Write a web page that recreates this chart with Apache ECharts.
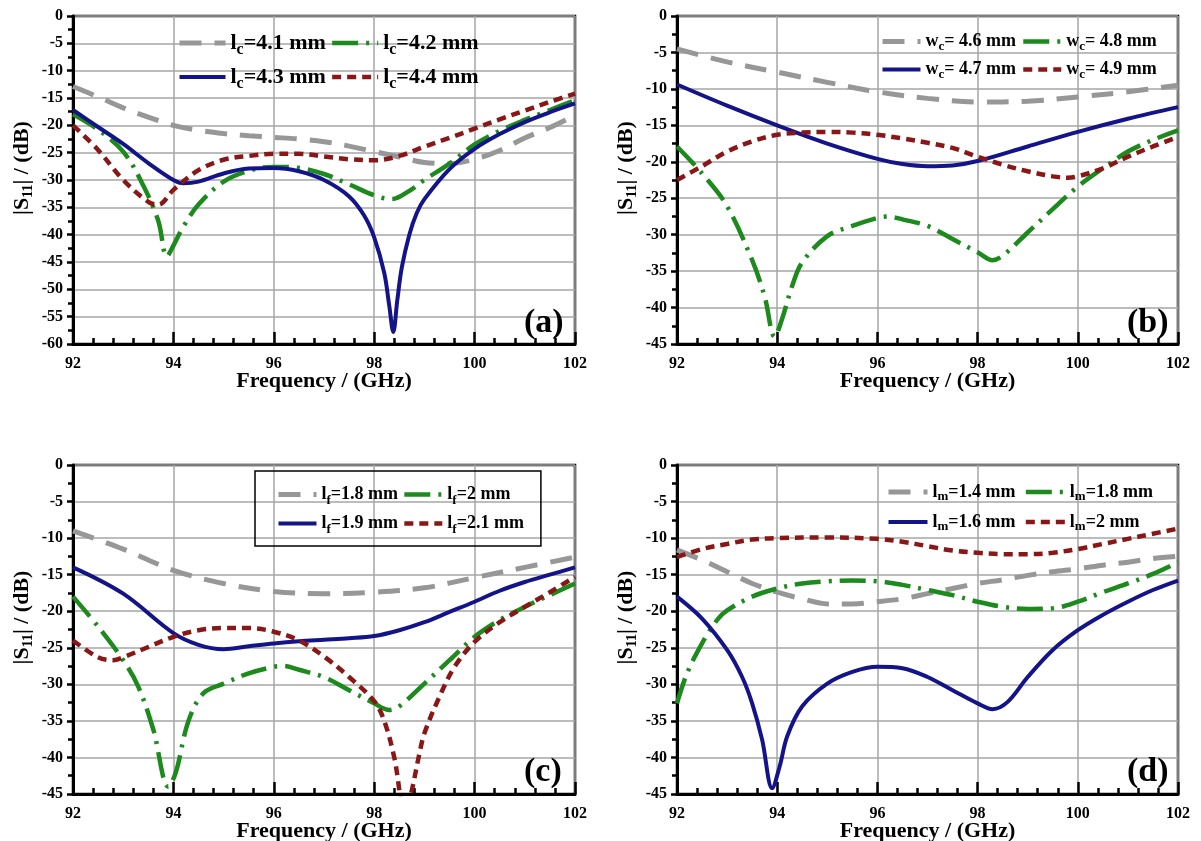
<!DOCTYPE html>
<html><head><meta charset="utf-8">
<script src="https://cdn.jsdelivr.net/npm/echarts@6/dist/echarts.min.js"></script>
<style>html,body{margin:0;padding:0;background:#fff}#c{width:1201px;height:841px}</style>
</head><body><div id="c"></div>
<script>
// ---------- DATA ----------
// Panel (a): l_c sweep
const a_lc41_f = [92, 92.5, 93, 93.5, 94, 94.5, 95, 95.5, 96, 96.5, 97, 97.5, 98, 98.5, 99, 99.5, 100, 100.5, 101, 101.5, 102];
const a_lc41_s = [-12.9, -14.8, -16.8, -18.5, -20, -20.9, -21.5, -21.9, -22.2, -22.5, -23, -23.8, -24.8, -25.8, -26.8, -27, -26.2, -24.6, -22.3, -20.4, -18.2];
const a_lc42_f = [92, 92.5, 93, 93.4, 93.7, 93.87, 94, 94.2, 94.5, 95, 95.5, 96, 96.5, 97, 97.5, 98, 98.35, 98.7, 99, 99.5, 100, 100.5, 101, 101.5, 102];
const a_lc42_s = [-18, -20.8, -24.8, -31, -37.5, -44, -42, -38.5, -34.5, -30.3, -28.3, -27.6, -27.8, -28.9, -30.8, -32.8, -33.5, -32, -30, -27, -23.5, -21, -19, -17.2, -15.4];
const a_lc43_f = [92, 92.5, 93, 93.5, 94, 94.2, 94.5, 95, 95.5, 96, 96.5, 97, 97.5, 97.8, 98, 98.2, 98.3, 98.38, 98.46, 98.55, 98.7, 98.85, 99, 99.5, 100, 100.5, 101, 101.5, 102];
const a_lc43_s = [-17.2, -20.3, -23.4, -26.9, -30, -30.6, -30.3, -28.8, -27.9, -27.8, -28.4, -30, -33, -36.5, -40.5, -47, -53, -57.8, -52, -46, -40, -36, -33.5, -28, -24.3, -21.6, -19.4, -17.6, -16];
const a_lc44_f = [92, 92.5, 93, 93.5, 93.7, 94, 94.5, 95, 95.5, 96, 96.5, 97, 97.5, 98, 98.5, 99, 99.5, 100, 100.5, 101, 101.5, 102];
const a_lc44_s = [-20, -24.5, -30, -34, -34.5, -31.8, -28.2, -26.3, -25.6, -25.2, -25.2, -25.7, -26.2, -26.4, -25.6, -23.9, -22.3, -20.6, -18.9, -17.3, -15.7, -14.2];

// Panel (b): w_c sweep
const b_wc46_f = [92, 93, 94, 95, 96, 97, 98, 99, 100, 101, 102];
const b_wc46_s = [-4.5, -6.3, -7.7, -9.1, -10.4, -11.3, -11.8, -11.7, -11.1, -10.4, -9.5];
const b_wc47_f = [92, 93, 94, 95, 96, 96.5, 97, 97.5, 98, 99, 100, 101, 102];
const b_wc47_s = [-9.4, -12.3, -15, -17.5, -19.6, -20.3, -20.6, -20.5, -19.9, -17.9, -15.9, -14.1, -12.5];
const b_wc48_f = [92, 92.5, 93, 93.5, 93.75, 93.95, 94.1, 94.3, 94.5, 95, 95.5, 96, 96.2, 96.5, 97, 97.5, 98, 98.3, 98.5, 99, 99.5, 100, 100.5, 101, 101.5, 102];
const b_wc48_s = [-17.9, -21.6, -26.1, -33.5, -38.5, -44, -41.5, -37, -33.8, -30.2, -28.8, -27.7, -27.5, -27.9, -28.8, -30.6, -32.4, -33.5, -32.9, -29.7, -26.5, -23.4, -20.9, -18.6, -17, -15.7];
const b_wc49_f = [92, 92.5, 93, 93.5, 94, 94.5, 95, 95.5, 96, 96.5, 97, 97.5, 98, 98.5, 99, 99.5, 99.8, 100, 100.5, 101, 101.5, 102];
const b_wc49_s = [-22.5, -20.6, -18.6, -17.2, -16.3, -16, -15.9, -16, -16.3, -16.8, -17.4, -18.1, -19.3, -20.4, -21.3, -22, -22.2, -22, -20.9, -19.3, -17.9, -16.6];

// Panel (c): l_f sweep
const c_lf18_f = [92, 93, 94, 95, 96, 97, 98, 99, 100, 101, 102];
const c_lf18_s = [-9, -11.5, -14.4, -16.2, -17.3, -17.6, -17.4, -16.8, -15.4, -14, -12.6];
const c_lf19_f = [92, 93, 94, 94.5, 95, 95.5, 96, 96.5, 97, 97.5, 98, 98.5, 99, 99.5, 100, 100.5, 101, 101.5, 102];
const c_lf19_s = [-14, -17.6, -23, -24.6, -25.2, -24.8, -24.4, -24.1, -23.9, -23.7, -23.4, -22.6, -21.5, -20.1, -18.7, -17.2, -16, -15, -14];
const c_lf20_f = [92, 92.5, 93, 93.3, 93.6, 93.9, 94.05, 94.3, 94.6, 95, 95.5, 96, 96.2, 96.5, 97, 97.5, 98, 98.3, 98.5, 99, 99.5, 100, 100.5, 101, 101.5, 102];
const c_lf20_s = [-18, -22.1, -26.7, -30.3, -36.2, -44, -42, -35, -31.2, -29.9, -28.5, -27.6, -27.5, -28, -29, -30.8, -32.6, -33.5, -33, -29.9, -26.7, -23.5, -21.2, -19.4, -17.8, -16.2];
const c_lf21_f = [92, 92.5, 92.8, 93, 93.5, 94, 94.5, 95, 95.5, 96, 96.5, 97, 97.5, 98, 98.2, 98.4, 98.62, 98.75, 98.9, 99, 99.3, 99.6, 100, 100.5, 101, 101.5, 102];
const c_lf21_s = [-24, -26.3, -26.7, -26.3, -24.9, -23.5, -22.6, -22.3, -22.3, -22.8, -24, -26.2, -29, -32.3, -35, -40, -48, -44.5, -39.5, -36.7, -31.7, -27.6, -24.2, -21.5, -19.4, -17.4, -15.3];

// Panel (d): l_m sweep
const d_lm14_f = [92, 92.5, 93, 93.5, 94, 94.5, 95, 95.5, 96, 96.5, 97, 97.5, 98, 98.5, 99, 99.5, 100, 100.5, 101, 101.5, 102];
const d_lm14_s = [-11.6, -13, -14.6, -16.2, -17.4, -18.3, -19, -19, -18.7, -18.3, -17.6, -16.9, -16.2, -15.7, -15.1, -14.6, -14.2, -13.7, -13.3, -12.8, -12.5];
const d_lm16_f = [92, 92.5, 93, 93.3, 93.5, 93.7, 93.9, 94.05, 94.2, 94.5, 95, 95.5, 96, 96.5, 97, 97.5, 98, 98.3, 98.6, 99, 99.5, 100, 100.5, 101, 101.5, 102];
const d_lm16_s = [-18, -21, -25.3, -29, -32.6, -37.6, -44.2, -41.2, -37.1, -33, -29.9, -28.3, -27.6, -27.8, -29, -30.8, -32.6, -33.4, -32.4, -29, -25.3, -22.6, -20.5, -18.7, -17.1, -15.8];
const d_lm18_f = [92, 92.2, 92.5, 92.8, 93, 93.5, 94, 94.5, 95, 95.5, 96, 96.5, 97, 97.5, 98, 98.5, 99, 99.5, 100, 100.5, 101, 101.5, 102];
const d_lm18_s = [-32.6, -28.5, -24.4, -21.2, -19.9, -18, -16.9, -16.2, -15.9, -15.8, -15.9, -16.4, -17.1, -17.8, -18.7, -19.4, -19.7, -19.6, -18.7, -17.4, -16.2, -14.9, -13.3];
const d_lm20_f = [92, 92.5, 93, 93.5, 94, 95, 96, 96.5, 97, 97.5, 98, 98.5, 99, 99.5, 100, 100.5, 101, 101.5, 102];
const d_lm20_s = [-12.6, -11.5, -10.8, -10.2, -10, -9.9, -10.1, -10.5, -11.1, -11.7, -12, -12.2, -12.2, -12, -11.5, -10.8, -10.1, -9.4, -8.7];

// Axis ranges / ticks
const xTicks = [92, 94, 96, 98, 100, 102];
const yMin = [-60, -45, -45, -45];
const panelLabels = ['(a)', '(b)', '(c)', '(d)'];

// ---------- STYLES ----------
const FONT = '"Liberation Serif", "Times New Roman", serif';
const COL = { gray: '#979797', green: '#1c8a1c', blue: '#14148a', red: '#8a1717' };
const LS = {
  gray:  { color: COL.gray,  width: 5,   type: [22, 13], cap: 'butt' },
  green: { color: COL.green, width: 4.5, type: [26, 8, 3, 8], cap: 'butt' },
  blue:  { color: COL.blue,  width: 4,   type: 'solid' },
  red:   { color: COL.red,   width: 4.5, type: [9, 6], cap: 'butt' }
};

const panels = [
  { series: [['l_c=4.1 mm', a_lc41_f, a_lc41_s, 'gray'], ['l_c=4.2 mm', a_lc42_f, a_lc42_s, 'green'], ['l_c=4.3 mm', a_lc43_f, a_lc43_s, 'blue'], ['l_c=4.4 mm', a_lc44_f, a_lc44_s, 'red']] },
  { series: [['w_c= 4.6 mm', b_wc46_f, b_wc46_s, 'gray'], ['w_c= 4.8 mm', b_wc48_f, b_wc48_s, 'green'], ['w_c= 4.7 mm', b_wc47_f, b_wc47_s, 'blue'], ['w_c= 4.9 mm', b_wc49_f, b_wc49_s, 'red']] },
  { series: [['l_f=1.8 mm', c_lf18_f, c_lf18_s, 'gray'], ['l_f=2 mm', c_lf20_f, c_lf20_s, 'green'], ['l_f=1.9 mm', c_lf19_f, c_lf19_s, 'blue'], ['l_f=2.1 mm', c_lf21_f, c_lf21_s, 'red']] },
  { series: [['l_m=1.4 mm', d_lm14_f, d_lm14_s, 'gray'], ['l_m=1.8 mm', d_lm18_f, d_lm18_s, 'green'], ['l_m=1.6 mm', d_lm16_f, d_lm16_s, 'blue'], ['l_m=2 mm', d_lm20_f, d_lm20_s, 'red']] }
];

const grids = [
  { left: 73, top: 16, width: 502, height: 328 },
  { left: 677, top: 16, width: 501, height: 328 },
  { left: 73, top: 465, width: 502, height: 329 },
  { left: 677, top: 465, width: 501, height: 329 }
];
const legendPos = [
  { left: 177, top: 28, fs: 22, sub: 16, lh: 30, gap: 4, iw: 46, pad: 0, border: 0, w: 360 },
  { left: 880, top: 30, fs: 18, sub: 13, lh: 23, gap: 5, iw: 38, pad: 0, border: 0, w: 300 },
  { left: 255, top: 471, fs: 18, sub: 13, lh: 25, gap: 4, iw: 38, pad: [11, 17, 10, 21], border: 1.5, w: 300 },
  { left: 886, top: 481, fs: 18, sub: 13, lh: 22, gap: 8, iw: 39, pad: 0, border: 0, w: 320 }
];
const labelPos = [
  { left: 524, top: 306 }, { left: 1127, top: 306 }, { left: 524, top: 755 }, { left: 1127, top: 755 }
];

function zip(f, s) { return f.map((x, i) => [x, s[i]]); }
function richName(name) {
  const i = name.indexOf('_');
  return '{n|' + name.slice(0, i) + '}{s|' + name[i + 1] + '}{n|' + name.slice(i + 2) + '}';
}

const option = {
  animation: false,
  backgroundColor: '#fff',
  grid: grids.map(g => Object.assign({ show: true, borderColor: '#000', borderWidth: 2.5, outerBoundsMode: 'none', containLabel: false }, g)),
  xAxis: grids.map((g, i) => ({
    type: 'value', gridIndex: i, min: xTicks[0], max: xTicks[xTicks.length - 1], interval: 2,
    axisLine: { show: true, onZero: false, lineStyle: { color: '#000', width: 3 } },
    axisTick: { show: true, inside: true, length: 12, lineStyle: { color: '#000', width: 2.5 } },
    minorTick: { show: true, splitNumber: 5, length: 6, lineStyle: { color: '#000', width: 2.5 } },
    splitLine: { show: true, lineStyle: { color: '#a6a6a6', width: 1.5 } },
    axisLabel: { color: '#000', fontFamily: FONT, fontWeight: 'bold', fontSize: 16, margin: 12 },
    name: 'Frequency / (GHz)', nameLocation: 'middle', nameGap: 26, nameMoveOverlap: false,
    nameTextStyle: { color: '#000', fontFamily: FONT, fontWeight: 'bold', fontSize: 22 }
  })),
  yAxis: grids.map((g, i) => ({
    type: 'value', gridIndex: i, min: yMin[i], max: 0, interval: 5,
    axisLine: { show: true, onZero: false, lineStyle: { color: '#000', width: 3 } },
    axisTick: { show: true, inside: false, length: 6, lineStyle: { color: '#000', width: 2.5 } },
    minorTick: { show: true, splitNumber: 2, length: 5, lineStyle: { color: '#000', width: 2.5 } },
    splitLine: { show: true, lineStyle: { color: '#a6a6a6', width: 1.5 } },
    axisLabel: { color: '#000', fontFamily: FONT, fontWeight: 'bold', fontSize: 16, margin: 10 },
    name: '{n||S}{s|11}{n|| / (dB)}', nameLocation: 'middle', nameRotate: 90, nameGap: 38, nameMoveOverlap: false,
    nameTextStyle: {
      color: '#000', fontFamily: FONT, fontWeight: 'bold', fontSize: 22, padding: [0, 0, 0, 24],
      rich: {
        n: { fontFamily: FONT, fontWeight: 'bold', fontSize: 22, lineHeight: 26, color: '#000' },
        s: { fontFamily: FONT, fontWeight: 'bold', fontSize: 14, lineHeight: 14, verticalAlign: 'bottom', color: '#000' }
      }
    }
  })),
  legend: panels.map((p, i) => {
    const L = legendPos[i];
    return {
      left: L.left, top: L.top, orient: 'horizontal', width: L.w, itemGap: L.gap,
      itemWidth: L.iw, itemHeight: 1, padding: L.pad,
      borderColor: '#000', borderWidth: L.border, selectedMode: false,
      data: p.series.map(s => s[0]),
      itemStyle: { opacity: 0 },
      lineStyle: { width: 'inherit' },
      formatter: richName,
      textStyle: {
        color: '#000', fontFamily: FONT, fontWeight: 'bold', fontSize: L.fs, lineHeight: L.lh,
        rich: {
          n: { fontFamily: FONT, fontWeight: 'bold', fontSize: L.fs, lineHeight: L.lh, color: '#000' },
          s: { fontFamily: FONT, fontWeight: 'bold', fontSize: L.sub, lineHeight: L.sub, verticalAlign: 'bottom', color: '#000' }
        }
      }
    };
  }),
  title: panelLabels.map((t, i) => ({
    text: t, left: labelPos[i].left, top: labelPos[i].top, padding: 0,
    textStyle: { fontFamily: FONT, fontWeight: 'bold', fontSize: 34, color: '#000' }
  })),
  series: []
};

panels.forEach((p, gi) => {
  p.series.forEach(s => {
    option.series.push({
      type: 'line', name: s[0], xAxisIndex: gi, yAxisIndex: gi,
      data: zip(s[1], s[2]), smooth: 0.35, symbol: 'none', clip: true,
      lineStyle: Object.assign({}, LS[s[3]]), itemStyle: { color: COL[s[3]] },
      emphasis: { disabled: true }
    });
  });
});

const chart = echarts.init(document.getElementById('c'), null, { renderer: 'canvas' });
chart.setOption(option);
</script></body></html>
